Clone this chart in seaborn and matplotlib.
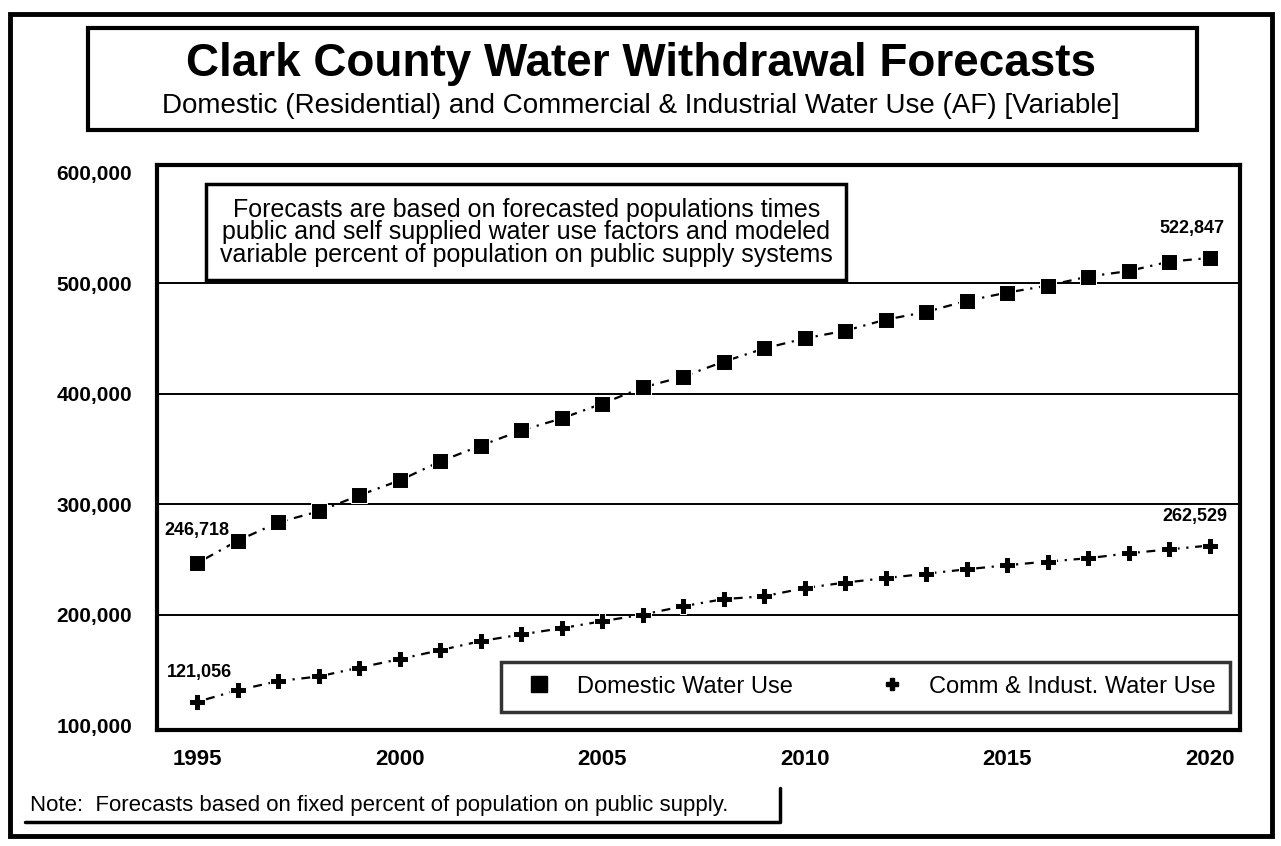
import matplotlib
matplotlib.use("Agg")
import matplotlib.pyplot as plt
import seaborn as sns
import pandas as pd
from matplotlib.patches import Rectangle
from matplotlib.lines import Line2D

years = list(range(1995, 2021))
domestic = [246718, 267000, 283500, 293500, 308000, 321500, 338700, 353000, 366700,
            377600, 391000, 405600, 415500, 429000, 440900, 450000, 457000, 467000,
            474000, 484000, 491500, 497800, 506000, 511000, 519500, 522847]
comm_ind = [121056, 131600, 139800, 144000, 152000, 159700, 167800, 176000, 182000,
            187700, 194000, 200000, 207600, 214000, 216600, 224000, 229000, 233000,
            237000, 241000, 244700, 248000, 251000, 255500, 259000, 262529]
series_names = ["Domestic Water Use", "Comm & Indust. Water Use"]
xticks = [1995, 2000, 2005, 2010, 2015, 2020]
yticks = [100000, 200000, 300000, 400000, 500000, 600000]

df = pd.DataFrame({
    "Year": years * 2,
    "Value": domestic + comm_ind,
    "Series": [series_names[0]] * len(years) + [series_names[1]] * len(years),
})

sns.set_theme(style="white")
plt.rcParams["font.family"] = ["Liberation Sans", "DejaVu Sans"]
plt.rcParams["text.color"] = "black"
plt.rcParams["xtick.color"] = "black"
plt.rcParams["ytick.color"] = "black"
plt.rcParams["axes.labelcolor"] = "black"

fig = plt.figure(figsize=(12.81, 8.46), dpi=100)
ax = fig.add_axes([157/1281, 1 - 730/846, (1240-157)/1281, (730-165)/846])

sns.lineplot(data=df, x="Year", y="Value", hue="Series", style="Series",
             markers={series_names[0]: "s", series_names[1]: "P"},
             dashes={series_names[0]: (1, 3, 4, 3), series_names[1]: (1, 3, 4, 3)},
             palette={series_names[0]: "black", series_names[1]: "black"},
             markersize=11, linewidth=1.6, ax=ax, legend=False)

ax.set_xlim(1994.0, 2020.75)
ax.set_ylim(95500, 607000)
ax.set_xticks(xticks)
ax.set_xticklabels([str(t) for t in xticks], fontsize=16, fontweight="bold")
ax.set_yticks(yticks)
ax.set_yticklabels([f"{v:,}" for v in yticks], fontsize=15, fontweight="bold")
ax.tick_params(axis="y", pad=12)
ax.tick_params(axis="x", pad=8)
ax.set_xlabel("")
ax.set_ylabel("")
for y in yticks[1:-1]:
    ax.axhline(y, color="black", lw=1.4, zorder=0)
for s in ax.spines.values():
    s.set_color("black")
    s.set_linewidth(3)

# data labels
lab = dict(textcoords="offset points", fontsize=13, fontweight="bold")
ax.annotate(f"{domestic[0]:,}", (years[0], domestic[0]), xytext=(-24, 20), **lab)
ax.annotate(f"{comm_ind[0]:,}", (years[0], comm_ind[0]), xytext=(-22, 18), **lab)
ax.annotate(f"{domestic[-1]:,}", (years[-1], domestic[-1]), xytext=(-36, 18), **lab)
ax.annotate(f"{comm_ind[-1]:,}", (years[-1], comm_ind[-1]), xytext=(-34, 18), **lab)

# annotation box
ax.text(0.341, 0.942,
        "Forecasts are based on forecasted populations times\n"
        "public and self supplied water use factors and modeled\n"
        "variable percent of population on public supply systems",
        transform=ax.transAxes, ha="center", va="top", fontsize=18, linespacing=0.92,
        bbox=dict(boxstyle="square,pad=0.55", fc="white", ec="black", lw=2.5))

# legend
handles = [Line2D([], [], color="black", marker="s", ls="none", markersize=11),
           Line2D([], [], color="black", marker="P", ls="none", markersize=9)]
leg = ax.legend(handles, series_names, loc="lower right", bbox_to_anchor=(0.991, 0.032),
                borderaxespad=0, ncol=2, frameon=True, fancybox=False, fontsize=17,
                columnspacing=3.2, handletextpad=0.6, borderpad=0.6)
leg.get_frame().set_edgecolor("black")
leg.get_frame().set_linewidth(2.5)

# title box
fig.patches.append(Rectangle((88/1281, 1 - 130/846), (1197-88)/1281, (130-28)/846,
                             transform=fig.transFigure, fill=False, ec="black", lw=3))
fig.text(0.5, 1 - 64/846, "Clark County Water Withdrawal Forecasts",
         ha="center", va="center", fontsize=33, fontweight="bold")
fig.text(0.5, 1 - 106/846,
         "Domestic (Residential) and Commercial & Industrial Water Use (AF) [Variable]",
         ha="center", va="center", fontsize=20)

# outer frame
fig.patches.append(Rectangle((10/1281, 1 - 836/846), (1272-10)/1281, (836-14)/846,
                             transform=fig.transFigure, fill=False, ec="black", lw=3.5))

# footnote
fig.text(30/1281, 1 - 805/846,
         "Note:  Forecasts based on fixed percent of population on public supply.",
         ha="left", va="center", fontsize=16)
fig.add_artist(Line2D([25/1281, 780/1281, 780/1281], [1 - 822/846, 1 - 822/846, 1 - 788/846],
                      transform=fig.transFigure, color="black", lw=2.5))

fig.savefig("out.png", dpi=100)
